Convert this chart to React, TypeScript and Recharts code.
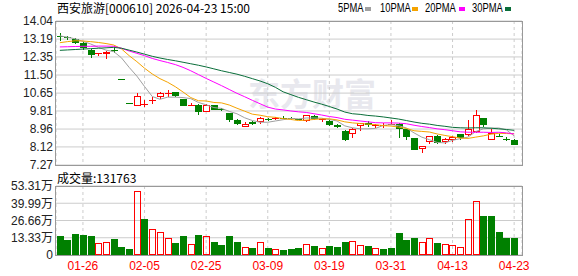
import React from "react";
import { ComposedChart, Bar, Line, XAxis, YAxis, CartesianGrid } from "recharts";

// trading days shown (60 sessions)
const dates = [
  "01-21", "01-22", "01-23", "01-26", "01-27", "01-28", "01-29", "01-30", "02-02", "02-03",
  "02-04", "02-05", "02-06", "02-09", "02-10", "02-11", "02-12", "02-13", "02-24", "02-25",
  "02-26", "02-27", "03-02", "03-03", "03-04", "03-05", "03-06", "03-09", "03-10", "03-11",
  "03-12", "03-13", "03-16", "03-17", "03-18", "03-19", "03-20", "03-23", "03-24", "03-25",
  "03-26", "03-27", "03-30", "03-31", "04-01", "04-02", "04-03", "04-07", "04-08", "04-09",
  "04-10", "04-13", "04-14", "04-15", "04-16", "04-17", "04-20", "04-21", "04-22", "04-23",
];

const opens = [
  13.34, 13.27, 13.21, 13.01, 12.66, 12.47, 12.5, 12.67, 11.31, 10.18,
  10.03, 10.12, 10.26, 10.47, 10.64, 10.69, 10.39, 10.08, 10.09, 9.75,
  10.07, 9.89, 9.71, 9.37, 9.06, 9.31, 9.29, 9.42, 9.46, 9.5,
  9.47, 9.41, 9.32, 9.57, 9.4, 9.34, 9.17, 8.87, 8.71, 9.09,
  9.26, 9.09, 9.12, 9.18, 9.18, 8.95, 8.55, 8.01, 8.37, 8.62,
  8.37, 8.43, 8.73, 8.66, 8.82, 9.46, 8.43, 8.61, 8.5, 8.44,
];
const highs = [
  13.48, 13.35, 13.26, 13.07, 12.71, 12.54, 12.63, 12.79, 11.31, 10.18,
  10.65, 10.33, 10.47, 10.72, 10.78, 10.72, 10.39, 10.2, 10.12, 10.12,
  10.07, 9.93, 9.71, 9.43, 9.28, 9.34, 9.54, 9.49, 9.54, 9.57,
  9.53, 9.43, 9.6, 9.62, 9.48, 9.37, 9.2, 8.9, 8.99, 9.26,
  9.34, 9.21, 9.23, 9.38, 9.24, 8.95, 8.55, 8.15, 8.62, 8.68,
  8.55, 8.62, 8.73, 9.39, 9.85, 9.46, 8.98, 8.71, 8.57, 8.49,
];
const lows = [
  13.1, 13.16, 12.94, 12.66, 12.32, 12.41, 12.27, 12.55, 11.31, 10.18,
  10.03, 10.0, 10.15, 10.37, 10.47, 10.47, 10.03, 10.06, 9.62, 9.75,
  9.84, 9.81, 9.31, 9.15, 9.06, 9.15, 9.18, 9.34, 9.4, 9.43,
  9.4, 9.38, 9.29, 9.4, 9.31, 9.12, 9.02, 8.41, 8.52, 8.87,
  9.06, 8.99, 9.02, 9.14, 8.55, 8.46, 7.99, 7.85, 8.24, 8.24,
  8.27, 8.37, 8.46, 8.63, 8.77, 9.06, 8.43, 8.58, 8.4, 8.22,
];
const closes = [
  13.3, 13.25, 13.01, 12.79, 12.44, 12.53, 12.6, 12.65, 11.31, 10.18,
  10.5, 10.16, 10.31, 10.65, 10.66, 10.5, 10.06, 10.1, 9.75, 10.09,
  9.87, 9.87, 9.37, 9.18, 9.18, 9.18, 9.48, 9.4, 9.48, 9.48,
  9.46, 9.4, 9.6, 9.45, 9.45, 9.17, 9.04, 8.46, 8.96, 9.23,
  9.15, 9.15, 9.14, 9.2, 8.95, 8.6, 7.99, 8.15, 8.62, 8.3,
  8.49, 8.59, 8.55, 8.95, 9.6, 9.15, 8.76, 8.59, 8.49, 8.22,
];

// volume in 万 (10k shares)
const volumes = [
  14.7, 11.6, 16.2, 15.5, 14.7, 9.3, 10.0, 12.4, 6.2, 4.6,
  49.2, 27.8, 20.1, 17.8, 13.1, 9.3, 14.7, 8.5, 15.5, 14.7,
  10.0, 7.7, 14.7, 10.0, 6.2, 5.4, 10.0, 5.4, 4.6, 3.9,
  4.6, 5.4, 8.5, 7.0, 5.4, 7.0, 6.2, 10.0, 10.8, 7.7,
  7.0, 5.4, 4.6, 5.4, 17.0, 11.6, 13.1, 10.0, 13.1, 9.3,
  8.5, 7.7, 6.2, 27.8, 41.7, 30.1, 30.1, 17.8, 13.1, 13.18,
];
// 1 = red (up) volume bar, 0 = green
const volumeUp = [
  0, 0, 0, 0, 0, 1, 1, 0, 0, 0,
  1, 0, 1, 1, 1, 0, 0, 1, 0, 1,
  0, 0, 0, 0, 1, 0, 1, 0, 1, 0,
  0, 0, 1, 0, 1, 0, 0, 0, 1, 1,
  0, 1, 0, 0, 0, 0, 0, 1, 1, 0,
  1, 1, 1, 1, 1, 0, 0, 0, 0, 0,
];

const ma5 = [
  13.34, 13.28, 13.2, 13.08, 12.96, 12.8, 12.67, 12.6, 12.31, 11.86,
  11.45, 10.96, 10.49, 10.36, 10.46, 10.46, 10.44, 10.39, 10.21, 10.1,
  9.97, 9.93, 9.79, 9.68, 9.49, 9.36, 9.28, 9.28, 9.34, 9.4,
  9.46, 9.44, 9.48, 9.48, 9.47, 9.41, 9.34, 9.11, 9.02, 8.97,
  8.97, 8.99, 9.13, 9.17, 9.12, 9.01, 8.78, 8.58, 8.46, 8.33,
  8.31, 8.43, 8.51, 8.58, 8.84, 8.97, 9.0, 9.01, 8.92, 8.64,
];
const ma10 = [
  13.02, 13.07, 13.11, 13.1, 13.07, 13.03, 12.98, 12.91, 12.73, 12.41,
  12.13, 11.82, 11.55, 11.33, 11.16, 10.95, 10.7, 10.44, 10.29, 10.28,
  10.21, 10.19, 10.09, 9.94, 9.8, 9.66, 9.61, 9.54, 9.51, 9.45,
  9.41, 9.36, 9.38, 9.41, 9.44, 9.44, 9.39, 9.3, 9.25, 9.22,
  9.19, 9.17, 9.12, 9.1, 9.05, 8.99, 8.88, 8.85, 8.82, 8.73,
  8.66, 8.6, 8.54, 8.52, 8.58, 8.64, 8.72, 8.76, 8.75, 8.74,
];
const ma20 = [
  12.82, 12.83, 12.84, 12.85, 12.85, 12.86, 12.86, 12.85, 12.76, 12.63,
  12.52, 12.41, 12.28, 12.18, 12.09, 11.99, 11.86, 11.7, 11.52, 11.34,
  11.17, 11.0, 10.82, 10.64, 10.48, 10.31, 10.15, 9.99, 9.9, 9.86,
  9.81, 9.77, 9.74, 9.68, 9.62, 9.55, 9.5, 9.42, 9.38, 9.34,
  9.3, 9.26, 9.25, 9.25, 9.24, 9.21, 9.14, 9.08, 9.03, 8.97,
  8.93, 8.88, 8.83, 8.81, 8.81, 8.81, 8.8, 8.81, 8.78, 8.73,
];
const ma30 = [
  12.66, 12.68, 12.7, 12.72, 12.74, 12.76, 12.78, 12.8, 12.76, 12.67,
  12.58, 12.48, 12.38, 12.3, 12.23, 12.17, 12.1, 12.03, 11.96, 11.88,
  11.79, 11.7, 11.62, 11.54, 11.44, 11.33, 11.22, 11.09, 10.92, 10.71,
  10.58, 10.45, 10.34, 10.23, 10.13, 10.02, 9.9, 9.76, 9.68, 9.65,
  9.6, 9.57, 9.53, 9.48, 9.43, 9.36, 9.29, 9.23, 9.19, 9.13,
  9.09, 9.04, 9.02, 9.01, 9.02, 9.02, 9.0, 8.97, 8.94, 8.9,
];

const priceTicks = [7.27, 8.12, 8.96, 9.81, 10.65, 11.5, 12.35, 13.19, 14.04];
const volumeTicks = [0, 13.33, 26.66, 39.99, 53.31];
const dateTicks = ["01-26", "02-05", "02-25", "03-09", "03-19", "03-31", "04-13", "04-23"];

const RED = "#ff0000";
const GREEN = "#008000";
const GRID = "#cccccc";
const FONT = '"Liberation Sans", Arial, "Noto Sans CJK SC", sans-serif';
const CJK = '"Noto Sans CJK SC", "Liberation Sans", sans-serif';

const legend = [
  { label: "5PMA", color: "#a0a0a0", x: 338, sx: 365 },
  { label: "10PMA", color: "#f5a300", x: 380, sx: 412 },
  { label: "20PMA", color: "#ff00ff", x: 425, sx: 459 },
  { label: "30PMA", color: "#0a6e3a", x: 472, sx: 505 },
];

const rows = dates.map((date, i) => ({
  date,
  open: opens[i],
  high: highs[i],
  low: lows[i],
  close: closes[i],
  vol: volumes[i],
  volUp: volumeUp[i] === 1,
  ma5: ma5[i],
  ma10: ma10[i],
  ma20: ma20[i],
  ma30: ma30[i],
}));

// bar runs from the domain floor up to "high"; use it to map prices to pixels
const Candle = (props: any) => {
  const { x, y, width, height, payload } = props;
  if (!payload || !height) return <g />;
  const k = height / (payload.high - priceTicks[0]);
  const py = (v: number) => Math.round(y + (payload.high - v) * k);
  const cx = Math.round(x + width / 2);
  const up = payload.close > payload.open;
  const color = up ? RED : GREEN;
  const top = py(Math.max(payload.open, payload.close));
  const bot = py(Math.min(payload.open, payload.close));
  const hy = py(payload.high);
  const ly = py(payload.low);
  const wick = ly > hy ? <rect x={cx} y={hy} width={1} height={ly - hy} fill={color} /> : null;
  let body;
  if (bot - top < 2) {
    body = <rect x={cx - 3} y={top} width={7} height={1} fill={color} />;
  } else if (up) {
    body = <rect x={cx - 2.5} y={top + 0.5} width={6} height={bot - top - 1} fill="#fff" stroke={color} strokeWidth={1} />;
  } else {
    body = <rect x={cx - 3} y={top} width={7} height={bot - top} fill={color} />;
  }
  return (
    <g>
      {wick}
      {body}
    </g>
  );
};

const VolumeBar = (props: any) => {
  const { x, y, width, height, payload } = props;
  if (!payload || !height) return <g />;
  const cx = Math.round(x + width / 2);
  const top = Math.round(y);
  const bot = Math.round(y + height);
  if (payload.volUp) {
    return <rect x={cx - 2.5} y={top + 0.5} width={6} height={Math.max(1, bot - top - 1)} fill="none" stroke={RED} strokeWidth={1} />;
  }
  return <rect x={cx - 3} y={top} width={7} height={bot - top} fill={GREEN} />;
};

const tickStyle = { fontSize: 12, fill: "#222", fontFamily: FONT };

export default function App() {
  return (
    <div style={{ position: "absolute", left: 0, top: 0, width: 578, height: 276, background: "#fff", overflow: "hidden" }}>
      {/* watermark */}
      <div style={{ position: "absolute", left: 248, top: 72, fontSize: 32, fontWeight: 700, color: "#e8e8ee", fontFamily: CJK, lineHeight: "40px" }}>
        东方财富
      </div>

      <div style={{ position: "absolute", left: 57, top: 1, fontSize: 12, lineHeight: "14px", fontFamily: CJK, color: "#000", whiteSpace: "nowrap" }}>
        西安旅游[000610] 2026-04-23 15:00
      </div>
      {legend.map((l) => (
        <React.Fragment key={l.label}>
          <div
            style={{
              position: "absolute",
              left: l.x,
              top: 1,
              fontSize: 12,
              lineHeight: "14px",
              fontFamily: FONT,
              color: "#000",
              whiteSpace: "nowrap",
              transform: "scaleX(0.78)",
              transformOrigin: "left center",
            }}
          >
            {l.label}
          </div>
          <div style={{ position: "absolute", left: l.sx, top: 7, width: 6, height: 4, background: l.color }} />
        </React.Fragment>
      ))}

      <div style={{ position: "absolute", left: 0, top: 0 }}>
        <ComposedChart width={578} height={175} data={rows} margin={{ top: 21, right: 56, bottom: 10, left: 0 }}>
          <CartesianGrid vertical={false} stroke={GRID} />
          <CartesianGrid horizontal={false} stroke={GRID} strokeDasharray="3 3" />
          <XAxis dataKey="date" hide ticks={dateTicks} interval={0} padding={{ left: 0, right: 4 }} />
          <YAxis
            type="number"
            domain={[priceTicks[0], priceTicks[priceTicks.length - 1]]}
            ticks={priceTicks}
            interval={0}
            allowDataOverflow
            width={56}
            tickLine={false}
            axisLine={false}
            tickSize={0}
            tickMargin={3}
            tick={tickStyle}
            tickFormatter={(v: number) => v.toFixed(2)}
          />
          <Bar dataKey="high" shape={Candle} isAnimationActive={false} />
          <Line type="linear" dataKey="ma5" stroke="#a0a0a0" strokeWidth={1} dot={false} isAnimationActive={false} />
          <Line type="linear" dataKey="ma10" stroke="#f5a300" strokeWidth={1} dot={false} isAnimationActive={false} />
          <Line type="linear" dataKey="ma20" stroke="#ff00ff" strokeWidth={1} dot={false} isAnimationActive={false} />
          <Line type="linear" dataKey="ma30" stroke="#0a6e3a" strokeWidth={1} dot={false} isAnimationActive={false} />
        </ComposedChart>
      </div>
      <div style={{ position: "absolute", left: 55, top: 21, width: 468, height: 145, boxSizing: "border-box", border: "1px solid #999" }} />

      <div style={{ position: "absolute", left: 57, top: 171, fontSize: 12, lineHeight: "14px", fontFamily: CJK, color: "#000" }}>
        成交量:131763
      </div>

      <div style={{ position: "absolute", left: 0, top: 170 }}>
        <ComposedChart width={578} height={106} data={rows} margin={{ top: 16, right: 56, bottom: 0, left: 0 }}>
          <CartesianGrid vertical={false} stroke={GRID} />
          <CartesianGrid horizontal={false} stroke={GRID} strokeDasharray="3 3" />
          <XAxis
            dataKey="date"
            ticks={dateTicks}
            interval={0}
            padding={{ left: 0, right: 4 }}
            height={21}
            tickLine={false}
            axisLine={false}
            tickSize={4}
            tickMargin={2}
            tick={{ fontSize: 12, fill: RED, fontFamily: FONT }}
          />
          <YAxis
            type="number"
            domain={[0, volumeTicks[volumeTicks.length - 1]]}
            ticks={volumeTicks}
            interval={0}
            allowDataOverflow
            width={56}
            tickLine={false}
            axisLine={false}
            tickSize={0}
            tickMargin={3}
            tick={tickStyle}
            tickFormatter={(v: number) => (v === 0 ? "0" : v.toFixed(2) + "万")}
          />
          <Bar dataKey="vol" shape={VolumeBar} isAnimationActive={false} />
        </ComposedChart>
      </div>
      <div style={{ position: "absolute", left: 55, top: 186, width: 468, height: 70, boxSizing: "border-box", border: "1px solid #999" }} />
    </div>
  );
}
